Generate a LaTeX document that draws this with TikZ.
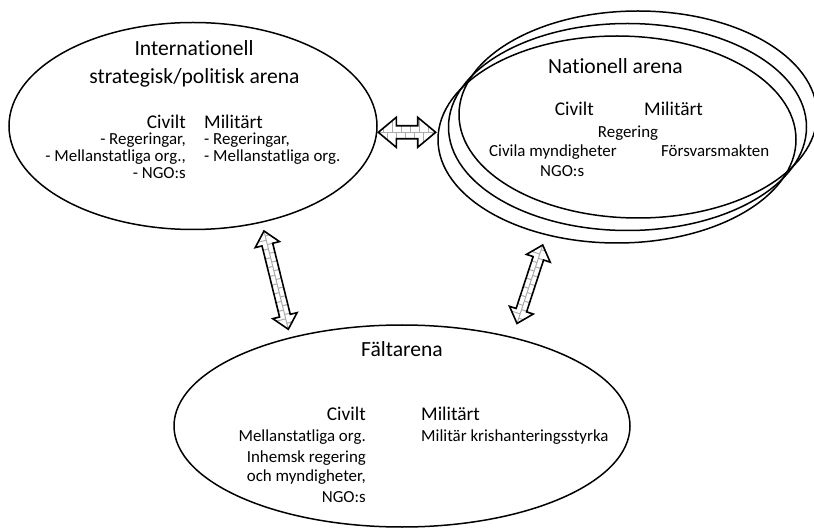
\documentclass[tikz,border=0pt]{standalone}
\usepackage{fontspec}
\setmainfont{Carlito}[Ligatures={NoCommon}]
\usetikzlibrary{shapes.geometric,calc}

\tikzset{
  arena/.style={draw, ellipse, line width=1.5pt, inner sep=0pt},
  ttl/.style={font=\fontsize{21.6}{26}\selectfont, inner sep=0pt},
  hd/.style={font=\fontsize{19.4}{23}\selectfont, inner sep=0pt},
  bd/.style={font=\fontsize{16.9}{20}\selectfont, inner sep=0pt},
  brickline/.style={draw=gray!65, line width=1pt},
  arrowedge/.style={draw=black, line width=1.6pt, line join=miter},
}

% #1 from, #2 to, #3 head half-width, #4 shaft half-width, #5 head length
\newcommand{\brickarrow}[5]{%
  \path let \p1=($(#2)-(#1)$), \n1={atan2(\y1,\x1)}, \n2={veclen(\x1,\y1)} in
    \pgfextra{\pgfmathsetmacro\tmpang{\n1}\pgfmathsetmacro\tmplen{\n2}%
      \xdef\baang{\tmpang}\xdef\balen{\tmplen}};
  \begin{scope}[shift={(#1)}, rotate=\baang]
    \clip (0,0) -- (#5,#3) -- (#5,#4) -- ({\balen-#5},#4) -- ({\balen-#5},#3)
      -- (\balen,0) -- ({\balen-#5},-#3) -- ({\balen-#5},-#4) -- (#5,-#4)
      -- (#5,-#3) -- cycle;
    \fill[white] (0,-#3) rectangle (\balen,#3);
    \draw[brickline] (0,0) -- (\balen,0);
    \foreach \t in {5,14,...,131} \draw[brickline] (\t,0) -- (\t,#3);
    \foreach \t in {9.5,18.5,...,131} \draw[brickline] (\t,0) -- (\t,-#3);
  \end{scope}
  \begin{scope}[shift={(#1)}, rotate=\baang]
    \draw[arrowedge] (0,0) -- (#5,#3) -- (#5,#4) -- ({\balen-#5},#4) -- ({\balen-#5},#3)
      -- (\balen,0) -- ({\balen-#5},-#3) -- ({\balen-#5},-#4) -- (#5,-#4)
      -- (#5,-#3) -- cycle;
  \end{scope}
}

\begin{document}
\begin{tikzpicture}[x=1pt, y=1pt]
\useasboundingbox (0,0) rectangle (814,-529);

% ---------- ellipses ----------
\node[arena, minimum width=368pt, minimum height=207pt] (intl) at (193,-126) {};
\node[arena, minimum width=358pt, minimum height=207pt] (natA) at (617,-139.5) {};
\node[arena, minimum width=358pt, minimum height=207pt] (natB) at (627.5,-127) {};
\node[arena, minimum width=358pt, minimum height=207pt] (natC) at (638,-114.5) {};
\node[arena, minimum width=456pt, minimum height=202pt] (falt) at (402,-426) {};

% ---------- international arena ----------
\node[ttl, anchor=base] (intlT1) at (194,-55.5) {Internationell};
\node[ttl, anchor=base] (intlT2) at (194.5,-83.5) {strategisk/politisk arena};
\node[hd, anchor=base east] (intlCh) at (186,-128.8) {Civilt};
\node[bd, anchor=base east] (intlC1) at (186,-145) {- Regeringar,};
\node[bd, anchor=base east] (intlC2) at (186,-161.8) {- Mellanstatliga org.,};
\node[bd, anchor=base east] (intlC3) at (186,-178.6) {- NGO:s};
\node[hd, anchor=base west] (intlMh) at (204,-128.8) {Militärt};
\node[bd, anchor=base west] (intlM1) at (204,-145) {- Regeringar,};
\node[bd, anchor=base west] (intlM2) at (204,-161.8) {- Mellanstatliga org.};

% ---------- national arena ----------
\node[ttl, anchor=base] (natT) at (615.5,-74) {Nationell arena};
\node[hd, anchor=base east] (natCh) at (594,-116) {Civilt};
\node[hd, anchor=base west] (natMh) at (644,-116) {Militärt};
\node[bd, anchor=base] (natR) at (628,-137.3) {Regering};
\node[bd, anchor=base west] (natC1) at (489,-156.7) {Civila myndigheter};
\node[bd, anchor=base west] (natM1) at (661,-156.7) {Försvarsmakten};
\node[bd, anchor=base west] (natC2) at (540,-176.7) {NGO:s};

% ---------- field arena ----------
\node[ttl, anchor=base] (faltT) at (402,-356.7) {Fältarena};
\node[hd, anchor=base east] (faltCh) at (366,-420.7) {Civilt};
\node[bd, anchor=base east] (faltC1) at (366,-441.7) {Mellanstatliga org.};
\node[bd, anchor=base east] (faltC2) at (366,-462.7) {Inhemsk regering};
\node[bd, anchor=base east] (faltC3) at (366,-481.7) {och myndigheter,};
\node[bd, anchor=base east] (faltC4) at (366,-502.7) {NGO:s};
\node[hd, anchor=base west] (faltMh) at (421,-420.7) {Militärt};
\node[bd, anchor=base west] (faltM1) at (421,-441.7) {Militär krishanteringsstyrka};

% ---------- arrow end points ----------
\coordinate (hL) at (378.3,-132.3);
\coordinate (hR) at (435.7,-132.3);
\coordinate (lT) at (264,-231);
\coordinate (lB) at (288.3,-329.3);
\coordinate (rT) at (542.7,-245);
\coordinate (rB) at (517,-323.5);

\brickarrow{hL}{hR}{15}{6.5}{18}
\brickarrow{lT}{lB}{12.5}{5.5}{14}
\brickarrow{rT}{rB}{12.5}{5.5}{14}

\end{tikzpicture}
\end{document}
